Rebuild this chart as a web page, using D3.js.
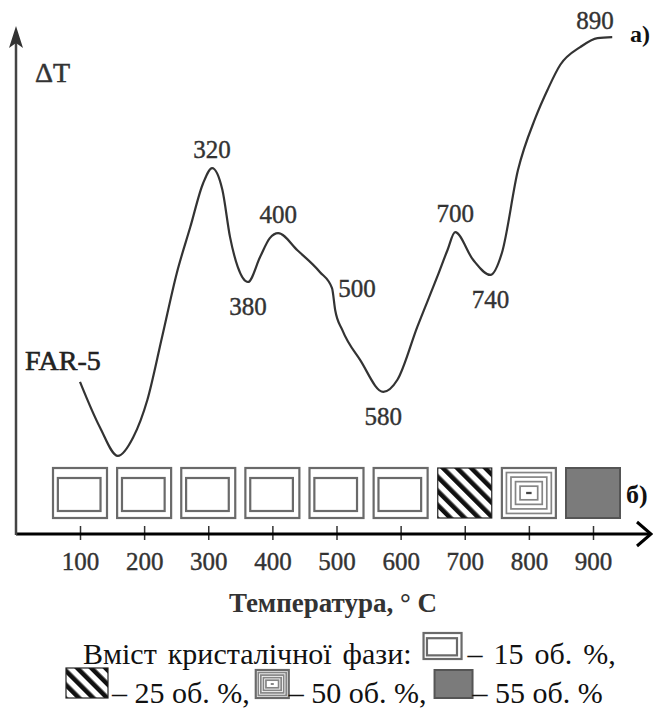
<!DOCTYPE html>
<html>
<head>
<meta charset="utf-8">
<script src="https://cdn.jsdelivr.net/npm/d3@7"></script>
<style>
  body { margin: 0; background: #fff; }
  svg { font-family: 'Liberation Serif', 'Times New Roman', Times, serif; }
</style>
</head>
<body>
<script>
// DTA curve of FAR-5 (temperature in °C, ΔT in arbitrary units)
let curveT  = [100, 131, 159, 183, 205, 228, 251, 272, 292, 306, 322, 334, 346, 362, 381, 396, 409,
               439, 474, 493, 498, 509, 537, 573, 595, 626, 657, 673, 685, 713, 740, 758, 783, 810,
               829, 849, 880, 907, 930];
let curveDT = [30.2, 21.2, 15.5, 19.2, 26.6, 39.1, 51.8, 60.9, 69.6, 72.6, 68.3, 58.9, 53.0, 50.0, 55.0, 58.7, 59.7,
               56.3, 52.0, 48.8, 44.4, 40.5, 34.5, 28.2, 30.6, 41.1, 51.0, 56.3, 59.9, 54.4, 51.4, 55.8, 72.2, 82.5,
               88.1, 93.1, 96.6, 98.4, 98.6];

// peak / dip annotations
let peakText  = ['320', '380', '400', '500', '580', '700', '740', '890'];
let peakT     = [306, 362, 409, 495, 573, 685, 740, 903];
let peakDT    = [72.6, 50.0, 59.7, 46.4, 28.2, 59.9, 51.4, 98.3];
let peakPlace = ['above', 'below', 'above', 'right', 'below', 'above', 'below', 'above'];

// crystalline phase content under each temperature
let phaseT   = [100, 200, 300, 400, 500, 600, 700, 800, 900];
let phaseVol = [15, 15, 15, 15, 15, 15, 25, 50, 55];

let tickT = [100, 200, 300, 400, 500, 600, 700, 800, 900];

let legendTitle = 'Вміст кристалічної фази:';
let legendVol   = [15, 25, 50, 55];
let legendText  = ['– 15 об. %,', '– 25 об. %,', '– 50 об. %,', '– 55 об. %'];

let W = 653, H = 714;
let svg = d3.select('body').append('svg').attr('width', W).attr('height', H);

let x = d3.scaleLinear().domain([100, 900]).range([80, 593]);
let y = d3.scaleLinear().domain([0, 100]).range([534, 30]);

// hatch pattern for 25 %
let defs = svg.append('defs');
defs.append('pattern')
    .attr('id', 'hatch')
    .attr('patternUnits', 'userSpaceOnUse')
    .attr('width', 10).attr('height', 10)
    .attr('patternTransform', 'rotate(-45)')
  .append('rect')
    .attr('width', 4.6).attr('height', 10)
    .attr('fill', '#111');

function icon(g, vol, x0, y0, w, h) {
  if (vol === 15) {
    g.append('rect').attr('x', x0).attr('y', y0).attr('width', w).attr('height', h)
      .attr('fill', '#fff').attr('stroke', '#6a6a6a').attr('stroke-width', 2.2);
    g.append('rect').attr('x', x0 + w * 0.09).attr('y', y0 + h * 0.2)
      .attr('width', w * 0.79).attr('height', h * 0.66)
      .attr('fill', '#fff').attr('stroke', '#6a6a6a').attr('stroke-width', 2.2);
  } else if (vol === 25) {
    g.append('rect').attr('x', x0).attr('y', y0).attr('width', w).attr('height', h)
      .attr('fill', 'url(#hatch)').attr('stroke', '#222').attr('stroke-width', 1.2);
  } else if (vol === 50) {
    let step = Math.min(w, h) / 11;
    for (let k = 0; k < 5; k++) {
      g.append('rect').attr('x', x0 + k * step).attr('y', y0 + k * step)
        .attr('width', w - 2 * k * step).attr('height', h - 2 * k * step)
        .attr('fill', k === 0 ? '#fff' : 'none').attr('stroke', k === 0 ? '#6a6a6a' : '#858585')
        .attr('stroke-width', k === 0 ? 2.2 : 1.7);
    }
    g.append('rect').attr('x', x0 + w / 2 - step * 0.6).attr('y', y0 + h / 2 - step * 0.25)
      .attr('width', step * 1.2).attr('height', step * 0.5).attr('fill', '#444');
  } else {
    g.append('rect').attr('x', x0).attr('y', y0).attr('width', w).attr('height', h)
      .attr('fill', '#7b7b7b').attr('stroke', '#555').attr('stroke-width', 2);
  }
}

// phase boxes
let gBox = svg.append('g');
phaseT.forEach(function(t, i) {
  icon(gBox, phaseVol[i], x(t) - 27, 468, 54, 50);
});

// x axis
let gAxis = svg.append('g').attr('transform', 'translate(0,534)')
  .call(d3.axisBottom(x).tickValues(tickT).tickSize(14).tickFormat(d3.format('d')));
gAxis.select('.domain').remove();
gAxis.attr('font-family', null).attr('font-size', 25);
gAxis.selectAll('.tick line').attr('y1', -8).attr('y2', 6).attr('stroke', '#333').attr('stroke-width', 1.5);
gAxis.selectAll('.tick text').attr('y', 36).attr('dy', 0).attr('fill', '#333')
  .attr('stroke', '#333').attr('stroke-width', 0.4);

svg.append('line').attr('x1', 16).attr('x2', 649).attr('y1', 534).attr('y2', 534)
  .attr('stroke', '#000').attr('stroke-width', 3);
svg.append('path').attr('d', 'M637,522 L651,534 L637,546')
  .attr('fill', 'none').attr('stroke', '#000').attr('stroke-width', 3);

// y axis
svg.append('line').attr('x1', 16).attr('x2', 16).attr('y1', 535).attr('y2', 40)
  .attr('stroke', '#444').attr('stroke-width', 2.5);
svg.append('path').attr('d', 'M16,26 L9,48 L16,43 L23,48 Z').attr('fill', '#333');

// curve
let pts = curveT.map(function(t, i) { return [t, curveDT[i]]; });
let line = d3.line().x(function(d) { return x(d[0]); }).y(function(d) { return y(d[1]); })
  .curve(d3.curveMonotoneX);
svg.append('path').datum(pts).attr('d', line)
  .attr('fill', 'none').attr('stroke', '#333').attr('stroke-width', 2.2);

// annotations
svg.selectAll('.peak').data(peakText).enter().append('text')
  .attr('class', 'peak')
  .attr('x', function(d, i) { return x(peakT[i]) + (peakPlace[i] === 'right' ? 5 : 0); })
  .attr('y', function(d, i) {
    let py = y(peakDT[i]);
    if (peakPlace[i] === 'above') return py - 10;
    if (peakPlace[i] === 'below') return py + 33;
    return py - 3;
  })
  .attr('text-anchor', function(d, i) { return peakPlace[i] === 'right' ? 'start' : 'middle'; })
  .attr('font-size', 25).attr('fill', '#333').attr('stroke', '#333').attr('stroke-width', 0.4)
  .text(function(d) { return d; });

svg.append('text').attr('x', 35).attr('y', 82).attr('font-size', 28).attr('fill', '#333')
  .attr('stroke', '#333').attr('stroke-width', 0.5).text('ΔT');
svg.append('text').attr('x', 25).attr('y', 370).attr('font-size', 28).attr('fill', '#222')
  .attr('stroke', '#222').attr('stroke-width', 0.6).text('FAR-5');
svg.append('text').attr('x', 630).attr('y', 42).attr('font-size', 24).attr('font-weight', 'bold')
  .attr('fill', '#111').text('a)');
svg.append('text').attr('x', 626).attr('y', 503).attr('font-size', 26).attr('font-weight', 'bold')
  .attr('fill', '#111').text('б)');
svg.append('text').attr('x', 333).attr('y', 612).attr('text-anchor', 'middle')
  .attr('font-size', 27).attr('font-weight', 'bold').attr('fill', '#333').text('Температура, ° С');

// legend, laid out word by word
let iconSize = {15: [38, 26], 25: [42, 30], 50: [33, 28], 55: [38, 28]};
function legendLine(items, x0, base, spacing) {
  let cx = x0;
  items.forEach(function(it) {
    if (it.gap) { cx += it.gap; return; }
    if (it.vol) {
      let s = iconSize[it.vol];
      icon(svg, it.vol, cx, base - s[1] - 5, s[0], s[1]);
      cx += s[0];
      return;
    }
    let t = svg.append('text').attr('x', cx).attr('y', base)
      .attr('font-size', 30).attr('fill', '#111').attr('word-spacing', spacing).text(it.text);
    cx += t.node().getComputedTextLength();
  });
}
legendLine([{text: legendTitle}, {gap: 12}, {vol: legendVol[0]}, {gap: 6}, {text: legendText[0]}], 83, 664, 3.5);
legendLine([{vol: legendVol[1]}, {gap: 4}, {text: legendText[1]}, {gap: 6}, {vol: legendVol[2]},
            {text: legendText[2]}, {gap: 8}, {vol: legendVol[3]}, {text: legendText[3]}], 66, 703, 0);
</script>
</body>
</html>
